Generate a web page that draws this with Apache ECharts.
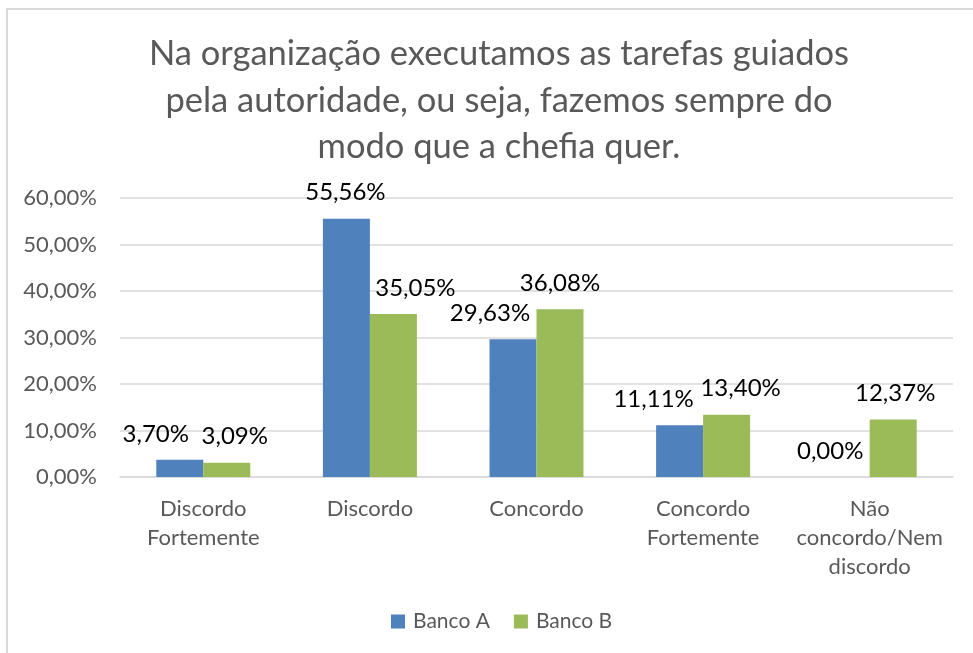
<!DOCTYPE html>
<html>
<head>
<meta charset="utf-8">
<script src="https://cdn.jsdelivr.net/npm/echarts@6/dist/echarts.min.js"></script>
<style>
  html, body { margin: 0; padding: 0; background: #fff; }
  #chart { width: 973px; height: 653px; }
</style>
</head>
<body>
<div id="chart"></div>
<script>
// categorias e valores (%)
const categories = ['Discordo\nFortemente', 'Discordo', 'Concordo', 'Concordo\nFortemente', 'Não\nconcordo/Nem\ndiscordo'];
const bancoA = [3.70, 55.56, 29.63, 11.11, 0.00];
const bancoB = [3.09, 35.05, 36.08, 13.40, 12.37];
const seriesNames = ['Banco A', 'Banco B'];

// deslocamento horizontal dos rótulos (o Excel afasta os que se sobrepõem)
const offsetA = [-24, -1, -23, -26, -16];
const offsetB = [8, 22, 0, 14, 2];

const fontFam = 'Lato, "Open Sans", sans-serif';
const fmt = v => v.toFixed(2).replace('.', ',') + '%';

const withOffsets = (vals, offs) => vals.map((v, i) => ({ value: v, label: { offset: [offs[i], 0] } }));

const labelStyle = {
  show: true, position: 'top', formatter: p => fmt(p.value),
  fontSize: 24, color: '#000', distance: 14, fontFamily: fontFam
};

const chart = echarts.init(document.getElementById('chart'));
chart.setOption({
  backgroundColor: '#fff',
  animation: false,
  textStyle: { fontFamily: fontFam },
  graphic: [{
    type: 'rect',
    shape: { x: 7, y: 9, width: 1000, height: 700 },
    style: { fill: 'none', stroke: '#d9d9d9', lineWidth: 2 }
  }],
  title: {
    text: 'Na organização executamos as tarefas guiados\npela autoridade, ou seja, fazemos sempre do\nmodo que a chefia quer.',
    left: 494,
    textAlign: 'center',
    top: 26,
    textStyle: { fontSize: 34.5, fontWeight: 'normal', color: '#595959', lineHeight: 46.5, fontFamily: fontFam }
  },
  legend: {
    top: 606,
    left: 386,
    itemWidth: 14,
    itemHeight: 14,
    itemGap: 24,
    icon: 'rect',
    textStyle: { fontSize: 21, color: '#595959', fontFamily: fontFam, padding: [0, 0, 0, 3] }
  },
  grid: { left: 120, right: 20, top: 198, bottom: 176 },
  xAxis: {
    type: 'category',
    data: categories,
    axisLine: { lineStyle: { color: '#d9d9d9', width: 1.5 } },
    axisTick: { show: false },
    axisLabel: { fontSize: 22, color: '#595959', lineHeight: 29, margin: 17, interval: 0, fontFamily: fontFam }
  },
  yAxis: {
    type: 'value',
    min: 0,
    max: 60,
    interval: 10,
    axisLine: { show: false },
    axisTick: { show: false },
    splitLine: { lineStyle: { color: '#d9d9d9', width: 1.5 } },
    axisLabel: { fontSize: 22, color: '#595959', margin: 23, formatter: fmt, fontFamily: fontFam }
  },
  series: [
    {
      name: seriesNames[0], type: 'bar', data: withOffsets(bancoA, offsetA), barWidth: 47, barGap: '0%',
      itemStyle: { color: '#4f81bd' },
      label: labelStyle
    },
    {
      name: seriesNames[1], type: 'bar', data: withOffsets(bancoB, offsetB), barWidth: 47,
      itemStyle: { color: '#9bbb59' },
      label: labelStyle
    }
  ]
});
</script>
</body>
</html>
